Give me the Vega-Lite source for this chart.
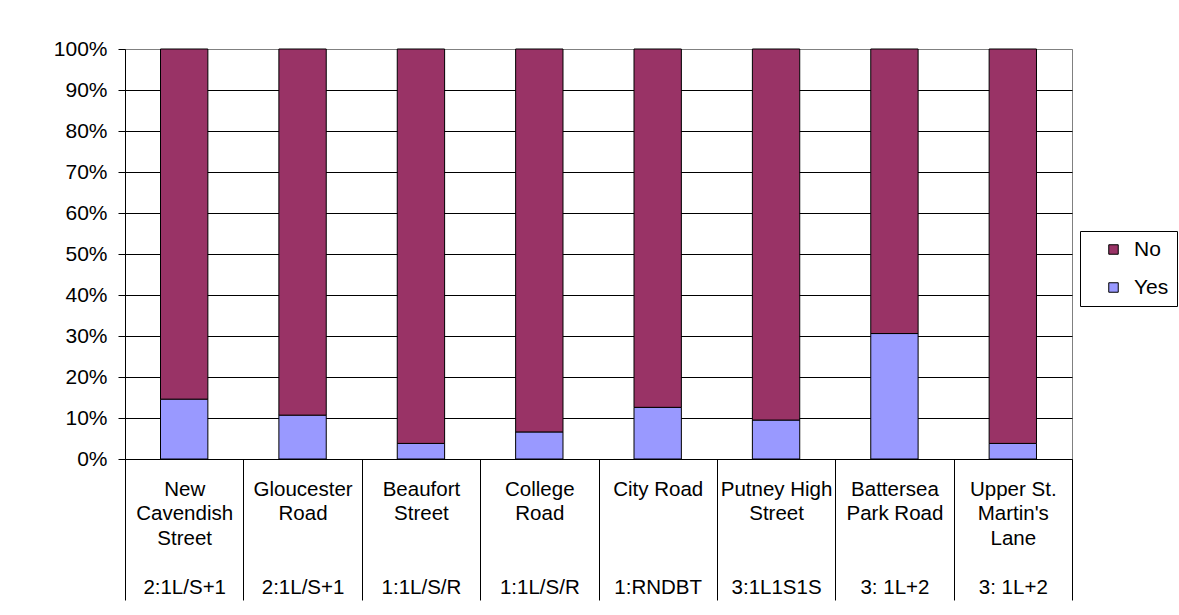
{
  "$schema": "https://vega.github.io/schema/vega-lite/v6.json",
  "autosize": "none",
  "width": 947,
  "height": 410,
  "padding": {"left": 125, "top": 49, "right": 107, "bottom": 156},
  "background": "white",
  "config": {
    "font": "Liberation Sans",
    "view": {"stroke": "#808080", "strokeWidth": 1}
  },
  "data": {
    "values": [
      {"site": "New Cavendish Street", "code": "2:1L/S+1", "answer": "Yes", "pct": 14.6},
      {"site": "New Cavendish Street", "code": "2:1L/S+1", "answer": "No", "pct": 85.4},
      {"site": "Gloucester Road", "code": "2:1L/S+1", "answer": "Yes", "pct": 10.7},
      {"site": "Gloucester Road", "code": "2:1L/S+1", "answer": "No", "pct": 89.3},
      {"site": "Beaufort Street", "code": "1:1L/S/R", "answer": "Yes", "pct": 3.8},
      {"site": "Beaufort Street", "code": "1:1L/S/R", "answer": "No", "pct": 96.2},
      {"site": "College Road", "code": "1:1L/S/R", "answer": "Yes", "pct": 6.6},
      {"site": "College Road", "code": "1:1L/S/R", "answer": "No", "pct": 93.4},
      {"site": "City Road", "code": "1:RNDBT", "answer": "Yes", "pct": 12.6},
      {"site": "City Road", "code": "1:RNDBT", "answer": "No", "pct": 87.4},
      {"site": "Putney High Street", "code": "3:1L1S1S", "answer": "Yes", "pct": 9.5},
      {"site": "Putney High Street", "code": "3:1L1S1S", "answer": "No", "pct": 90.5},
      {"site": "Battersea Park Road", "code": "3: 1L+2", "answer": "Yes", "pct": 30.6},
      {"site": "Battersea Park Road", "code": "3: 1L+2", "answer": "No", "pct": 69.4},
      {"site": "Upper St. Martin's Lane", "code": "3: 1L+2", "answer": "Yes", "pct": 3.8},
      {"site": "Upper St. Martin's Lane", "code": "3: 1L+2", "answer": "No", "pct": 96.2}
    ]
  },
  "mark": {"type": "bar", "stroke": "black", "strokeWidth": 1, "width": {"band": 0.4}},
  "encoding": {
    "x": {
      "field": "site",
      "type": "nominal",
      "sort": null,
      "scale": {"paddingInner": 0, "paddingOuter": 0},
      "axis": {
        "title": null,
        "labelAngle": 0,
        "labelFontSize": 20.5,
        "labelColor": "black",
        "labelLimit": 0,
        "labelLineHeight": 24.5,
        "labelPadding": -121,
        "tickBand": "extent",
        "tickSize": 141,
        "tickColor": "black",
        "domainColor": "black",
        "grid": false,
        "labelExpr": "datum.value == 'New Cavendish Street' ? ['New','Cavendish','Street','\u200b','2:1L/S+1'] : datum.value == 'Gloucester Road' ? ['Gloucester','Road','\u200b','\u200b','2:1L/S+1'] : datum.value == 'Beaufort Street' ? ['Beaufort','Street','\u200b','\u200b','1:1L/S/R'] : datum.value == 'College Road' ? ['College','Road','\u200b','\u200b','1:1L/S/R'] : datum.value == 'City Road' ? ['City Road','\u200b','\u200b','\u200b','1:RNDBT'] : datum.value == 'Putney High Street' ? ['Putney High','Street','\u200b','\u200b','3:1L1S1S'] : datum.value == 'Battersea Park Road' ? ['Battersea','Park Road','\u200b','\u200b','3: 1L+2'] : datum.value == \"Upper St. Martin's Lane\" ? ['Upper St.', \"Martin's\", 'Lane', '\u200b', '3: 1L+2'] : ''"
      }
    },
    "y": {
      "field": "pct",
      "type": "quantitative",
      "stack": "normalize",
      "scale": {"domain": [0, 1]},
      "axis": {
        "title": null,
        "format": ".0%",
        "values": [0, 0.1, 0.2, 0.3, 0.4, 0.5, 0.6, 0.7, 0.8, 0.9, 1],
        "labelFontSize": 21,
        "labelColor": "black",
        "labelPadding": 11,
        "tickSize": 7,
        "tickColor": "black",
        "domainColor": "black",
        "grid": true,
        "gridColor": {"condition": {"test": "datum.value === 1", "value": "#808080"}, "value": "black"},
        "gridOpacity": 1
      }
    },
    "color": {
      "field": "answer",
      "type": "nominal",
      "scale": {"domain": ["No", "Yes"], "range": ["#993366", "#9999FF"]},
      "legend": {
        "title": null,
        "orient": "none",
        "legendX": 955,
        "legendY": 182,
        "symbolType": "square",
        "symbolSize": 90,
        "symbolOffset": 15,
        "symbolStrokeColor": "black",
        "symbolStrokeWidth": 1,
        "symbolOpacity": 1,
        "labelFontSize": 21,
        "labelColor": "black",
        "labelOffset": 10,
        "rowPadding": 16,
        "strokeColor": "black",
        "padding": 8,
        "fillColor": "white"
      }
    },
    "order": {"field": "answer", "sort": "descending"}
  }
}
